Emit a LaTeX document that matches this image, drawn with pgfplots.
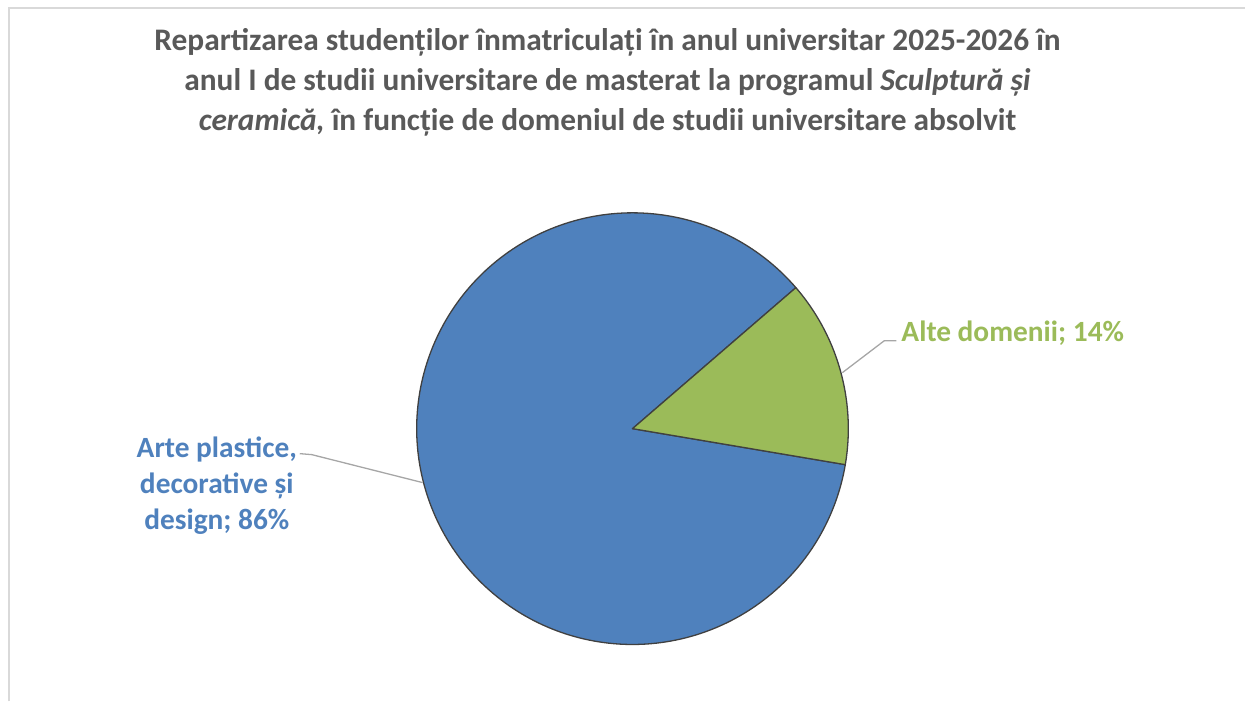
\documentclass[border=0pt]{standalone}
\usepackage{pgfplots}
\usepackage{pgfplotstable}
\pgfplotsset{compat=1.18}
\usepackage{fontspec}
\setmainfont{Carlito}
\definecolor{pieblue}{HTML}{4F81BD}
\definecolor{piegreen}{HTML}{9BBB59}
\definecolor{titlegray}{HTML}{595959}
\definecolor{edgegray}{HTML}{404040}
\definecolor{leadgray}{HTML}{A6A6A6}
\definecolor{framegray}{HTML}{D9D9D9}
\pgfplotstableread{
label value
Alte 14
Arte 86
}\piedata
\pgfplotstablegetelem{0}{value}\of\piedata \let\valGreen\pgfplotsretval
\pgfplotstablegetelem{1}{value}\of\piedata \let\valBlue\pgfplotsretval
\pgfmathsetmacro{\aStart}{-9.6}
\pgfmathsetmacro{\aMid}{\aStart+3.6*\valGreen}
\pgfmathsetmacro{\aEnd}{\aMid+3.6*\valBlue}
\begin{document}
\begin{tikzpicture}
\begin{axis}[
  scale only axis, width=1246bp, height=702bp,
  xmin=0, xmax=1246, ymin=0, ymax=702,
  hide axis, clip=false,
]
\path (axis cs:0,0) rectangle (axis cs:1246,702);
% frame
\draw[framegray, line width=2bp] (axis cs:9,0) -- (axis cs:9,694) -- (axis cs:1246,694);
% pie
\addplot[fill=pieblue, draw=edgegray, line width=1.3bp, domain=\aMid:\aEnd, samples=240, line join=round]
  ({633+216*cos(x)},{273+216*sin(x)}) -- (axis cs:633,273) -- cycle;
\addplot[fill=piegreen, draw=edgegray, line width=1.3bp, domain=\aStart:\aMid, samples=80, line join=round]
  ({633+216*cos(x)},{273+216*sin(x)}) -- (axis cs:633,273) -- cycle;
% leader lines
\draw[leadgray, line width=1.3bp] (axis cs:843,329) -- (axis cs:885,361) -- (axis cs:897,361);
\draw[leadgray, line width=1.3bp] (axis cs:300,248) -- (axis cs:312,247) -- (axis cs:423,219);
% labels
\node[anchor=base west, inner sep=0pt, font=\fontsize{29.5}{36}\selectfont\bfseries, text=piegreen] at (axis cs:902,360) {Alte domenii; 14\%};
\node[anchor=center, align=center, font=\fontsize{29.5}{36}\selectfont\bfseries, text=pieblue] at (axis cs:217,216) {Arte plastice,\\decorative și\\design; 86\%};
% title
\node[anchor=north, align=center, font=\fontsize{31.5}{40}\selectfont\bfseries, text=titlegray] at (axis cs:608,677)
 {Repartizarea studenților înmatriculați în anul universitar 2025-2026 în\\
  anul I de studii universitare de masterat la programul \textit{Sculptură și}\\
  \textit{ceramică,} în funcție de domeniul de studii universitare absolvit};
\end{axis}
\end{tikzpicture}
\end{document}
